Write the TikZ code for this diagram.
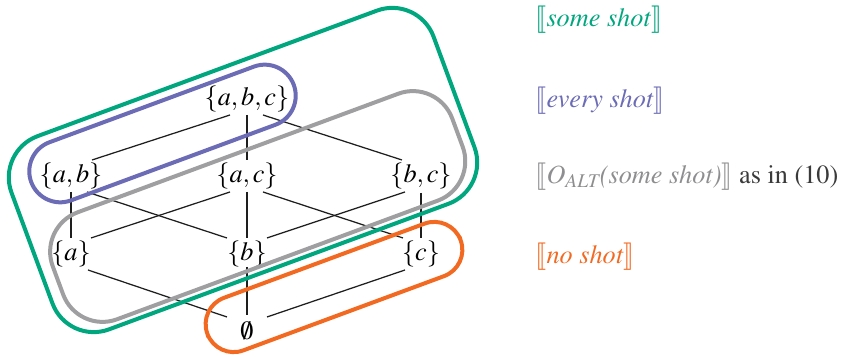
\documentclass[tikz,border=0pt]{standalone}
\usepackage[T1]{fontenc}
\usepackage{mathptmx}
\usepackage{stmaryrd}
\usetikzlibrary{calc}
\definecolor{ink}{HTML}{1E1E1E}
\definecolor{somec}{HTML}{00A67E}
\definecolor{everyc}{HTML}{6B6BB6}
\definecolor{altc}{HTML}{8E8E90}
\definecolor{noc}{HTML}{F26A22}
\definecolor{txtc}{HTML}{3A3A3A}
\begin{document}
\begin{tikzpicture}[x=0.4pt,y=-0.4pt,font=\fontsize{10.5}{12}\selectfont,
  set/.style={inner sep=0pt},
  lat/.style={line width=0.5pt,color=ink},
  blob/.style={line width=1.6pt},
  denot/.style={anchor=west,inner sep=0pt}]
  \useasboundingbox (0,0) rectangle (843,357);
  % lattice rows at y = 99 / 176 / 254 / 331 ; columns at x = 71, 247, 421
  \node[set] (abc) at (247,99)  {$\{a, b, c\}$};
  \node[set] (ab)  at (71,176)  {$\{a, b\}$};
  \node[set] (ac)  at (247,176) {$\{a, c\}$};
  \node[set] (bc)  at (421,176) {$\{b, c\}$};
  \node[set] (a)   at (71,254)  {$\{a\}$};
  \node[set] (b)   at (247,254) {$\{b\}$};
  \node[set] (c)   at (421,254) {$\{c\}$};
  \node[set] (emp) at (247,331) {$\emptyset$};
  % top to second row
  \draw[lat] ($(abc)+(-17,16)$) -- ($(ab)+(21,-16)$);
  \draw[lat] ($(abc)+(0,16)$)   -- ($(ac)+(0,-16)$);
  \draw[lat] ($(abc)+(16,16)$)  -- ($(bc)+(-19,-16)$);
  % second row to singletons
  \draw[lat] ($(ab)+(0,16)$)    -- ($(a)+(0,-16)$);
  \draw[lat] ($(ab)+(16,16)$)   -- ($(b)+(-20,-16)$);
  \draw[lat] ($(ac)+(-17,16)$)  -- ($(a)+(20,-16)$);
  \draw[lat] ($(ac)+(0,16)$)    -- ($(b)+(0,-16)$);
  \draw[lat] ($(ac)+(16,16)$)   -- ($(c)+(-18,-16)$);
  \draw[lat] ($(bc)+(-16,16)$)  -- ($(b)+(20,-16)$);
  \draw[lat] ($(bc)+(0,17)$)    -- ($(c)+(0,-16)$);
  % singletons to empty set
  \draw[lat] ($(a)+(17,16)$)    -- ($(emp)+(-20,-14)$);
  \draw[lat] ($(b)+(0,13)$)     -- ($(emp)+(0,-16)$);
  \draw[lat] ($(c)+(-16,16)$)   -- ($(emp)+(20,-14)$);
  % denotation regions, all tilted by the same angle
  \draw[blob,somec,rounded corners=17.6pt,rotate around={20.3:(243,170)}]
    (18,67) rectangle (468,273);
  \draw[blob,altc!85,rounded corners=16.8pt,rotate around={20.3:(257.7,206.5)}]
    (44.7,149.5) rectangle (470.7,263.5);
  \draw[blob,everyc,rounded corners=12.4pt,rotate around={20.3:(162.5,133.5)}]
    (22.5,102.5) rectangle (302.5,164.5);
  \draw[blob,noc,rounded corners=11.2pt,rotate around={20.3:(334,287)}]
    (199,259) rectangle (469,315);
  % legend
  \node[denot,text=somec]  (lsome)  at (535,20)  {$\llbracket$\textit{some shot}$\rrbracket$};
  \node[denot,text=everyc] (levery) at (535,101) {$\llbracket$\textit{every shot}$\rrbracket$};
  \node[denot,text=altc]   (lalt)   at (535,177) {$\llbracket$\textit{O\textsubscript{ALT}(some shot)}$\rrbracket$\ \textcolor{txtc}{as in (10)}};
  \node[denot,text=noc]    (lno)    at (535,257) {$\llbracket$\textit{no shot}$\rrbracket$};
\end{tikzpicture}
\end{document}
